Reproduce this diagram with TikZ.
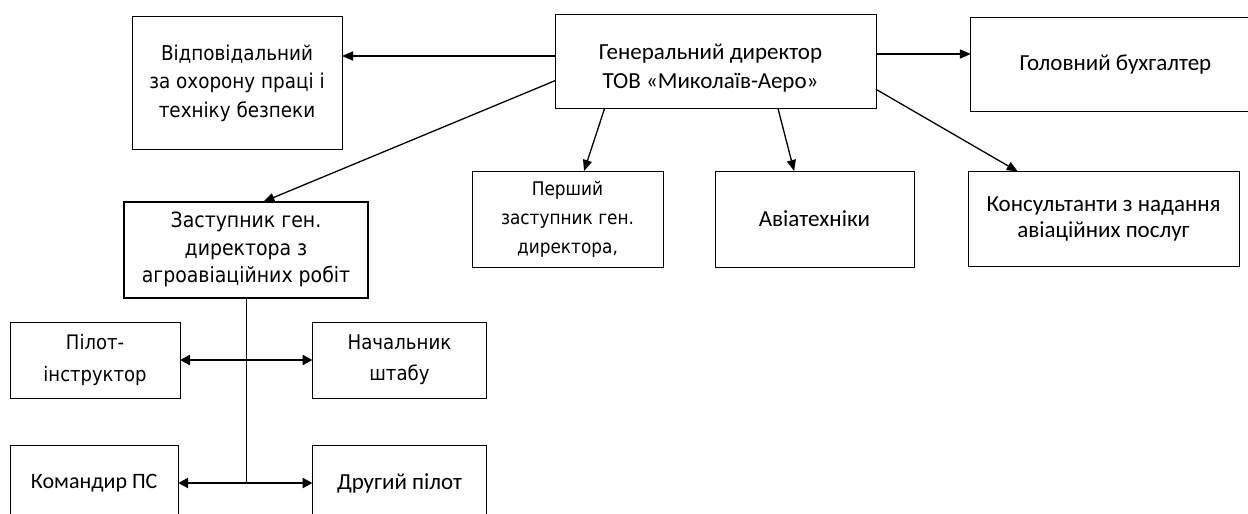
\documentclass[tikz,border=0pt]{standalone}
\usepackage{fontspec}
\setmainfont{Carlito}
\newfontfamily\verd[FakeStretch=0.9]{DejaVu Sans}
\usetikzlibrary{arrows.meta}

\begin{document}
\begin{tikzpicture}[x=1pt, y=-1pt, inner sep=0pt, outer sep=0pt,
  box/.style={draw=black, line width=1pt, fill=white, align=center},
  cal/.style={font=\fontsize{23}{29}\selectfont},
  ver/.style={font=\verd\fontsize{20.4}{28.5}\selectfont},
  link/.style={draw=black, line width=1.3pt, -{Triangle[length=11pt,width=9pt]}},
  dbl/.style={draw=black, line width=2.4pt, {Triangle[length=10pt,width=10pt]}-{Triangle[length=10pt,width=10pt]}}]
\useasboundingbox (0,0) rectangle (1248,514);
\clip (0,0) rectangle (1248,514);

\node[box, ver, minimum width=210pt, minimum height=133pt] (safety) at (237,83) {Відповідальний\\за охорону праці і\\техніку безпеки};
\node[box, minimum width=321pt, minimum height=94pt,
  label={[cal, align=center, xshift=-5pt, yshift=-7pt]center:Генеральний директор\\ТОВ «Миколаїв-Аеро»}] (gd) at (715.5,61) {};
\node[box, cal, minimum width=289pt, minimum height=94pt] (acct) at (1115.4,64.5) {Головний бухгалтер};

\node[box, font=\verd\fontsize{18.8}{29}\selectfont, minimum width=191pt, minimum height=96pt] (first) at (567.5,219) {Перший\\заступник ген.\\директора,};
\node[box, cal, minimum width=199pt, minimum height=96pt] (avia) at (814.5,219) {Авіатехніки};
\node[box, font=\fontsize{23}{26.7}\selectfont, minimum width=271pt, minimum height=95pt] (cons) at (1103.5,219) {Консультанти з надання\\авіаційних послуг};

\node[box, font=\verd\fontsize{21}{27.5}\selectfont, line width=2pt, minimum width=244pt, minimum height=96pt] (deputy) at (246,249.7) {Заступник ген.\\директора з\\агроавіаційних робіт};

\node[box, font=\verd\fontsize{20}{32}\selectfont, minimum width=170pt, minimum height=76pt] (pilot) at (95,360) {Пілот-\\інструктор};
\node[box, font=\verd\fontsize{20.2}{31}\selectfont, minimum width=174pt, minimum height=76pt] (chief) at (399.5,360) {Начальник\\штабу};
\node[box, font=\fontsize{22}{29}\selectfont, minimum width=168pt, minimum height=75pt] (cmd) at (94.2,483) {Командир ПС};
\node[box, cal, minimum width=174pt, minimum height=76pt] (copilot) at (399.5,483) {Другий пілот};

\draw[link] ([yshift=5pt]gd.west) -- ([yshift=5pt]gd.west -| safety.east);
\draw[link] ([yshift=7pt]gd.east) -- ([yshift=7pt]gd.east -| acct.west);
\draw[link] (gd.187.8) -- (deputy.70.5);
\draw[link] (gd.203.6) -- (first.71);
\draw[link] (gd.323) -- (avia.113.1);
\draw[link] (gd.350.5) -- (cons.151.9);

\coordinate (fork) at (deputy.south |- cmd.east);
\draw[line width=0.8pt] (deputy.south) -- (fork);
\draw[dbl] (pilot) -- (chief);
\draw[dbl] (cmd) -- (copilot);
\end{tikzpicture}
\end{document}
